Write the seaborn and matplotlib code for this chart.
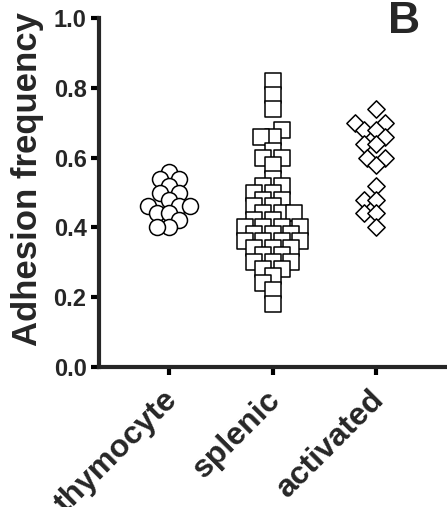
import numpy as np
import pandas as pd
import seaborn as sns
import matplotlib.pyplot as plt
from matplotlib.transforms import ScaledTranslation

# adhesion frequency per cell
cells = ["thymocyte", "splenic", "activated"]
markers = ["o", "s", "D"]

thymocyte = [0.56, 0.54, 0.54, 0.52, 0.50, 0.50, 0.48, 0.46, 0.46, 0.46,
             0.44, 0.44, 0.42, 0.40, 0.40]
splenic = [0.82, 0.78, 0.74, 0.68, 0.66, 0.66, 0.62, 0.60, 0.60, 0.58,
           0.54, 0.52, 0.52, 0.50, 0.50, 0.48, 0.48, 0.46, 0.46, 0.44,
           0.44, 0.44, 0.42, 0.42, 0.40, 0.40, 0.40, 0.40, 0.38, 0.38,
           0.38, 0.36, 0.36, 0.36, 0.36, 0.34, 0.34, 0.34, 0.32, 0.32,
           0.30, 0.30, 0.30, 0.28, 0.28, 0.26, 0.24, 0.22, 0.18]
activated = [0.74, 0.70, 0.70, 0.68, 0.68, 0.66, 0.64, 0.64, 0.60, 0.60,
             0.58, 0.52, 0.48, 0.48, 0.44, 0.44, 0.40]

df = pd.DataFrame({
    "cell": ["thymocyte"] * len(thymocyte) + ["splenic"] * len(splenic)
            + ["activated"] * len(activated),
    "adhesion": thymocyte + splenic + activated,
})

sns.set_style("ticks")
plt.rcParams["font.family"] = ["Liberation Sans", "DejaVu Sans"]
plt.rcParams["font.weight"] = "bold"

fig, ax = plt.subplots(figsize=(4.47, 5.07), dpi=100)
fig.subplots_adjust(left=0.2215, right=0.9955, bottom=0.276, top=0.9645)

msize = {"o": 11.5, "s": 11.2, "D": 8.8}
groups = []
for cell, mk in zip(cells, markers):
    sub = df[df["cell"] == cell]
    n0 = len(ax.collections)
    sns.swarmplot(data=sub, x="cell", y="adhesion", order=cells, marker=mk,
                  size=7, color="white", edgecolor="black", linewidth=1.1,
                  ax=ax)
    groups.append((ax.collections[n0:], mk))

ax.set_xlim(-0.68, 2.67)
ax.set_ylim(0, 1)

# lay out the swarm with the small size, then freeze it and draw bigger markers
fig.canvas.draw()
for colls, mk in groups:
    for coll in colls:
        if "draw" in coll.__dict__:
            del coll.draw
        coll.set_sizes([msize[mk] ** 2])
        coll.set_clip_on(False)

ax.set_yticks([0, 0.2, 0.4, 0.6, 0.8, 1.0])
ax.set_yticklabels(["0.0", "0.2", "0.4", "0.6", "0.8", "1.0"],
                   fontsize=17, fontweight="bold")
ax.set_xticks(range(len(cells)))
ax.set_xticklabels(cells, fontsize=23, fontweight="bold", rotation=45,
                   ha="right", rotation_mode="anchor")
ax.set_xlabel("")
ax.set_ylabel("Adhesion frequency", fontsize=25, fontweight="bold")
ax.yaxis.set_label_coords(-0.16, 0.54)

sns.despine(ax=ax)
for s in ["left", "bottom"]:
    ax.spines[s].set_linewidth(3)
ax.tick_params(axis="both", direction="out", length=6, width=3, pad=3,
               color="black")

# nudge the rotated x labels down-left (after tick_params, which resets them)
shift = ScaledTranslation(-7 / 100, -5 / 100, fig.dpi_scale_trans)
for tick in ax.xaxis.get_major_ticks():
    tick.label1.set_transform(tick.label1.get_transform() + shift)

fig.text(0.904, 0.958, "B", fontsize=32, fontweight="bold",
         ha="center", va="center")

fig.savefig("out.png", dpi=100)
